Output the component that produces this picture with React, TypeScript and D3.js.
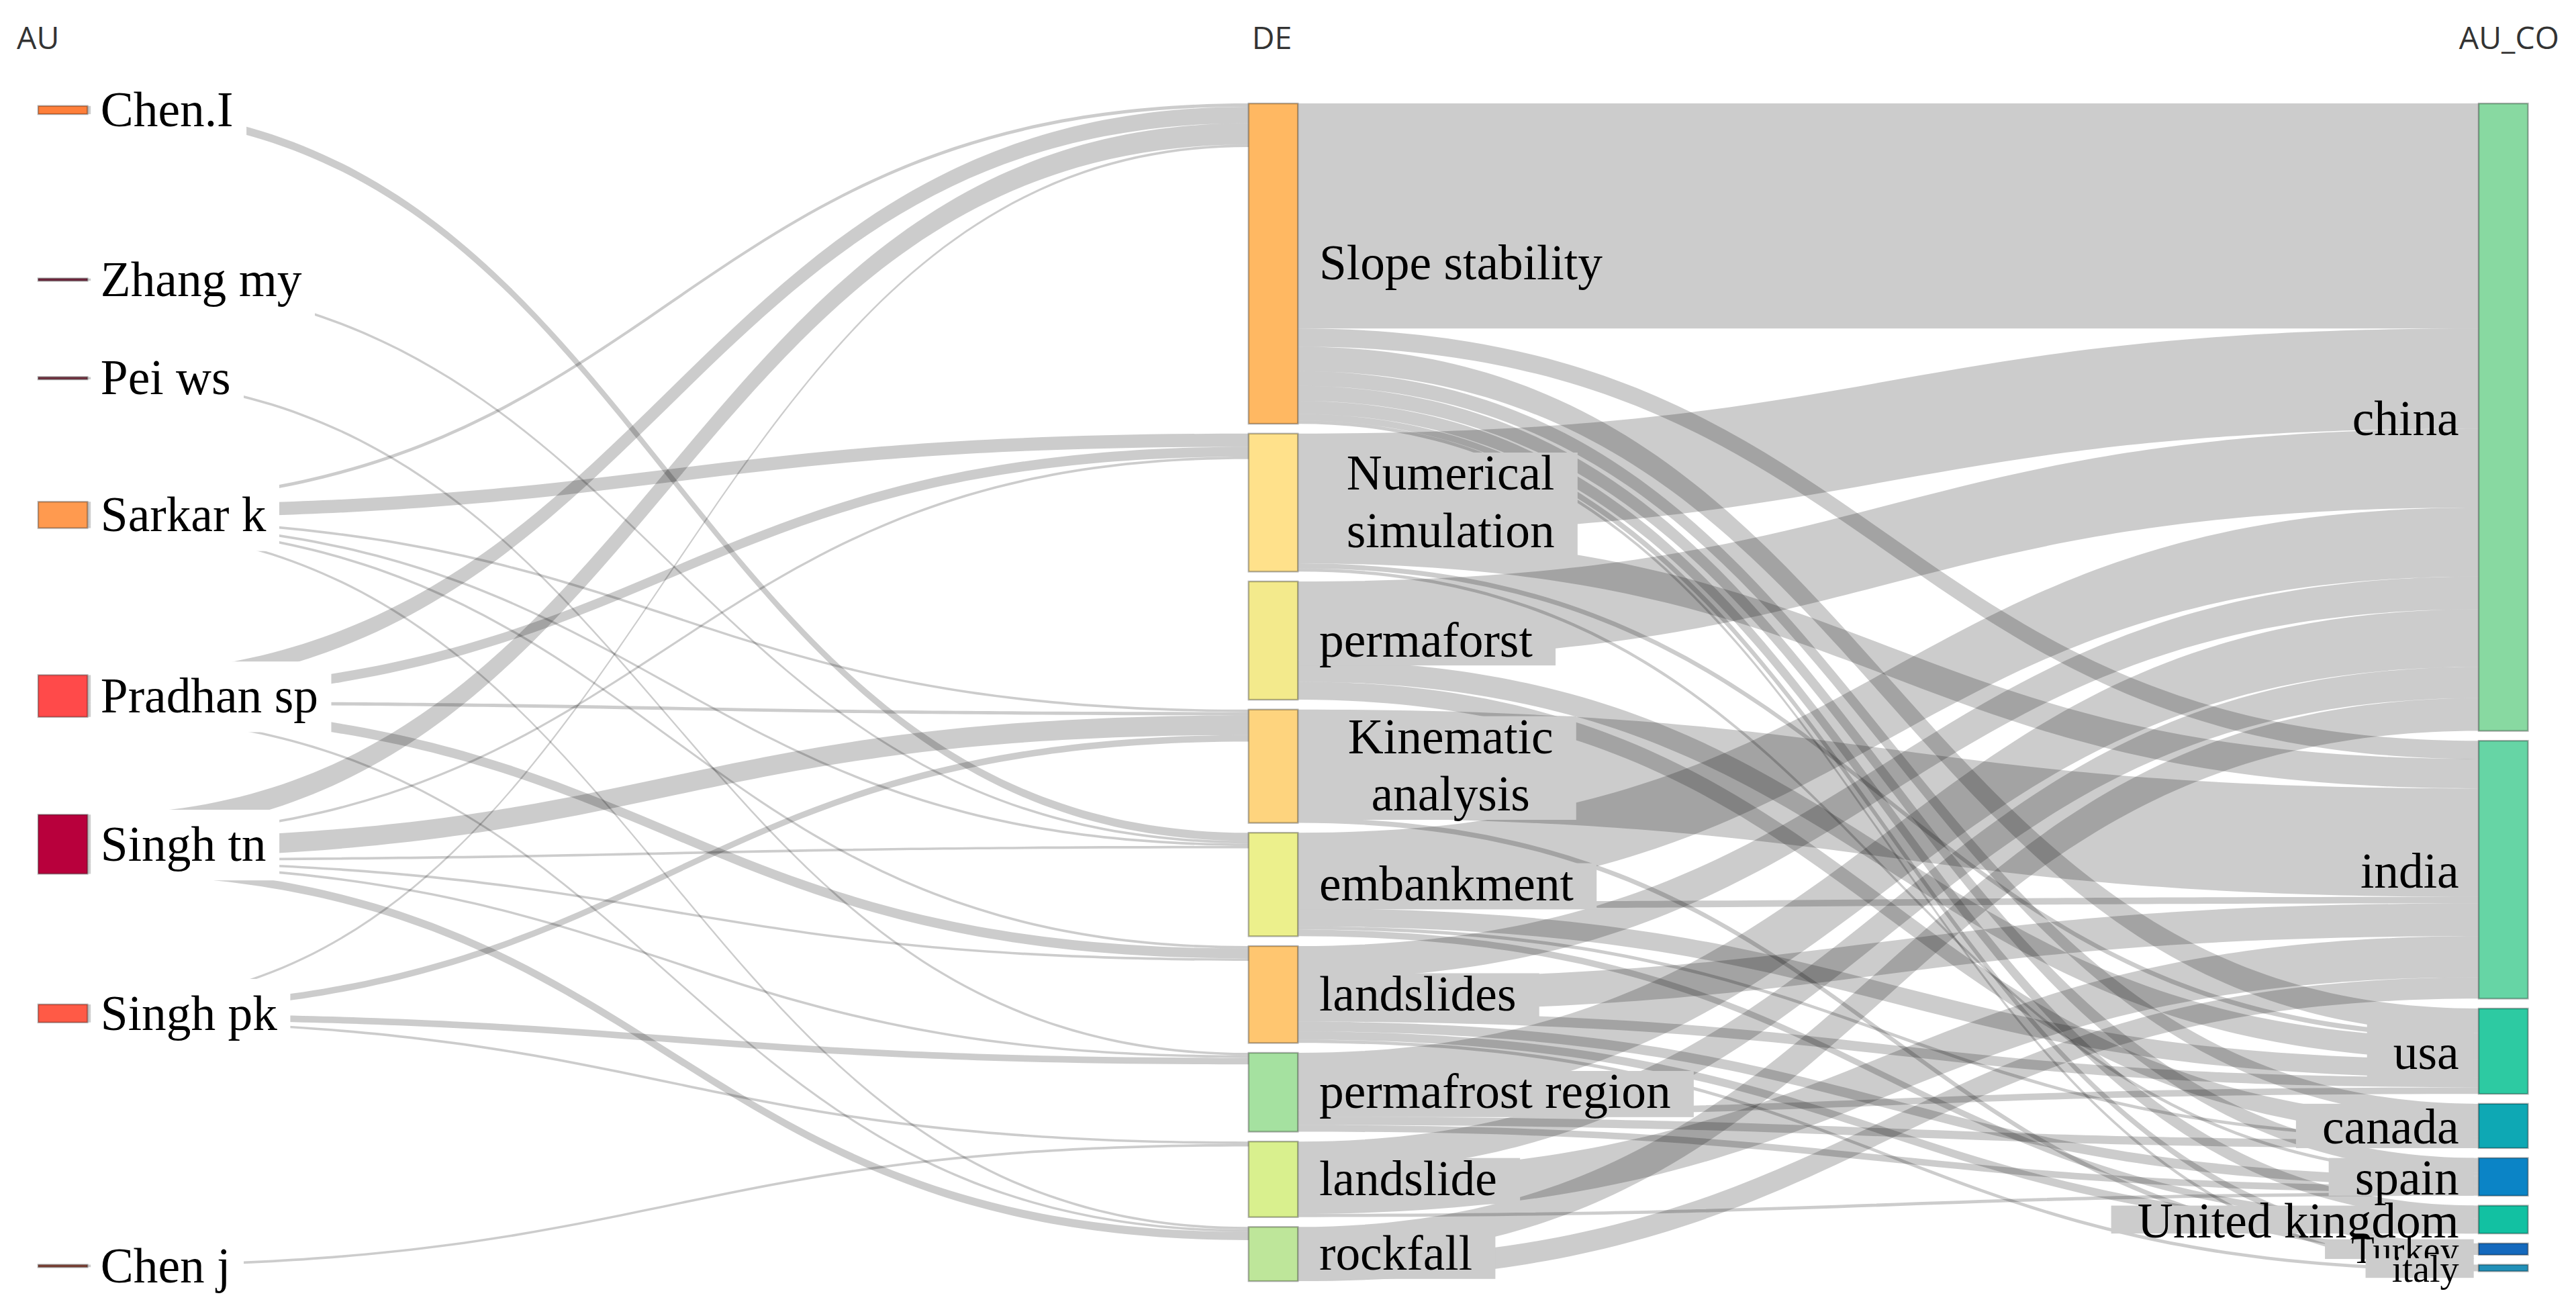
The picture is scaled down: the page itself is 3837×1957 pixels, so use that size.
import * as d3 from 'd3';
import { useEffect, useRef } from 'react';

// three-field plot: authors (AU) -> keywords (DE) -> countries (AU_CO)
const columnTitles = ['AU', 'DE', 'AU_CO'];

const authors = ['Chen.I', 'Zhang my', 'Pei ws', 'Sarkar k', 'Pradhan sp', 'Singh tn', 'Singh pk', 'Chen j'];
const keywords = [
    'Slope stability',
    'Numerical simulation',
    'permaforst',
    'Kinematic analysis',
    'embankment',
    'landslides',
    'permafrost region',
    'landslide',
    'rockfall',
];
const countries = ['china', 'india', 'usa', 'canada', 'spain', 'United kingdom', 'Turkey', 'italy'];

// author -> keyword
const authorLinks: [string, string, number][] = [
    ['Chen.I', 'embankment', 5],
    ['Zhang my', 'embankment', 1.5],
    ['Pei ws', 'permafrost region', 1.5],
    ['Sarkar k', 'Slope stability', 2],
    ['Sarkar k', 'Numerical simulation', 8],
    ['Sarkar k', 'Kinematic analysis', 1.5],
    ['Sarkar k', 'embankment', 1.5],
    ['Sarkar k', 'landslides', 1.5],
    ['Sarkar k', 'rockfall', 1.5],
    ['Pradhan sp', 'Slope stability', 10],
    ['Pradhan sp', 'Numerical simulation', 6],
    ['Pradhan sp', 'Kinematic analysis', 2],
    ['Pradhan sp', 'landslides', 6],
    ['Pradhan sp', 'rockfall', 1.5],
    ['Singh tn', 'Slope stability', 13],
    ['Singh tn', 'Numerical simulation', 1.5],
    ['Singh tn', 'Kinematic analysis', 12],
    ['Singh tn', 'embankment', 1.5],
    ['Singh tn', 'landslides', 1.5],
    ['Singh tn', 'permafrost region', 1.5],
    ['Singh tn', 'rockfall', 5],
    ['Singh pk', 'Slope stability', 1.5],
    ['Singh pk', 'Kinematic analysis', 4],
    ['Singh pk', 'permafrost region', 4],
    ['Singh pk', 'landslide', 1.5],
    ['Chen j', 'landslide', 1.5],
];

// keyword -> country
const keywordLinks: [string, string, number][] = [
    ['Slope stability', 'china', 137],
    ['Slope stability', 'india', 11],
    ['Slope stability', 'usa', 15],
    ['Slope stability', 'canada', 9],
    ['Slope stability', 'spain', 9],
    ['Slope stability', 'United kingdom', 8],
    ['Slope stability', 'Turkey', 4],
    ['Slope stability', 'italy', 2],
    ['Numerical simulation', 'china', 61],
    ['Numerical simulation', 'india', 18],
    ['Numerical simulation', 'usa', 3],
    ['Numerical simulation', 'spain', 2],
    ['permaforst', 'china', 48],
    ['permaforst', 'usa', 13],
    ['permaforst', 'canada', 11],
    ['Kinematic analysis', 'india', 66],
    ['Kinematic analysis', 'Turkey', 3],
    ['embankment', 'china', 42],
    ['embankment', 'india', 4],
    ['embankment', 'usa', 11],
    ['embankment', 'canada', 2],
    ['embankment', 'United kingdom', 4],
    ['landslides', 'china', 20],
    ['landslides', 'india', 20],
    ['landslides', 'usa', 6],
    ['landslides', 'spain', 6],
    ['landslides', 'United kingdom', 5],
    ['landslides', 'italy', 2],
    ['permafrost region', 'china', 35],
    ['permafrost region', 'usa', 4],
    ['permafrost region', 'canada', 5],
    ['permafrost region', 'spain', 4],
    ['landslide', 'china', 19],
    ['landslide', 'india', 25],
    ['landslide', 'spain', 2],
    ['rockfall', 'china', 20],
    ['rockfall', 'india', 13],
];

const authorColors = ['#ff7f3a', '#7b2b44', '#7e3a48', '#ff9a4f', '#ff4a4a', '#b8003c', '#ff5a46', '#8c4a3c'];
const keywordColors = ['#ffb862', '#ffe18b', '#f3ea8c', '#fed47e', '#ecf08c', '#ffc670', '#a5e1a0', '#d9f08e', '#bee69a'];
const countryColors = ['#88d9a1', '#66d5a5', '#2dcaa2', '#0ea8b4', '#0b84c6', '#12c1a2', '#1469bd', '#2190b8'];

// free arrangement of the author column: space left above each node
const authorGaps = [1.5, 100, 58.5, 74.5, 89.5, 59.5, 79.5, 147.5];
// keyword labels that are broken on two lines
const wrapped: Record<string, string[]> = {
    'Numerical simulation': ['Numerical', 'simulation'],
    'Kinematic analysis': ['Kinematic', 'analysis'],
};

type Node = {
    name: string;
    col: number;
    color: string;
    inSum: number;
    outSum: number;
    value: number;
    x0: number;
    x1: number;
    y0: number;
    y1: number;
};
type Link = { source: Node; target: Node; value: number; width: number; y0: number; y1: number };

const serif = "'Liberation Serif', 'Times New Roman', serif";

export default function App() {
    const chartRef = useRef<SVGSVGElement | null>(null);

    useEffect(() => {
        if (!chartRef.current) return;
        const svg = d3.select(chartRef.current);
        svg.selectAll('*').remove();

        const width = 1568;
        const height = 800;
        const top = 63;
        const bottom = 780;
        const nodeWidth = 30;
        const nodePadding = 6;
        const columnX = [23, 760, 1509];

        svg.attr('viewBox', `0 0 ${width} ${height}`);
        svg.append('rect').attr('width', width).attr('height', height).attr('fill', '#fff');

        const cols = [authors, keywords, countries];
        const palette = [authorColors, keywordColors, countryColors];
        const nodes: Node[] = [];
        const byName = new Map<string, Node>();
        cols.forEach((names, c) =>
            names.forEach((name, i) => {
                const n: Node = { name, col: c, color: palette[c][i], inSum: 0, outSum: 0, value: 0, x0: 0, x1: 0, y0: 0, y1: 0 };
                nodes.push(n);
                byName.set(name, n);
            })
        );

        const links: Link[] = [...authorLinks, ...keywordLinks].map(([s, t, v]) => ({
            source: byName.get(s)!,
            target: byName.get(t)!,
            value: v,
            width: 0,
            y0: 0,
            y1: 0,
        }));
        links.forEach((l) => {
            l.source.outSum += l.value;
            l.target.inSum += l.value;
        });
        nodes.forEach((n) => (n.value = Math.max(n.inSum, n.outSum)));

        const ky = d3.min(cols, (names, c) => {
            const cn = nodes.filter((n) => n.col === c);
            return (bottom - top - (names.length - 1) * nodePadding) / d3.sum(cn, (n) => n.value);
        })!;
        const thickness = d3.scaleLinear().domain([0, 1]).range([0, ky]);

        cols.forEach((names, c) => {
            let y = top;
            names.forEach((name, i) => {
                const n = byName.get(name)!;
                if (c === 0) y += authorGaps[i];
                else if (i > 0) y += nodePadding;
                n.y0 = y;
                n.y1 = y + thickness(n.value);
                y = n.y1;
                n.x0 = columnX[c];
                n.x1 = n.x0 + nodeWidth;
            });
        });

        nodes.forEach((n) => {
            let off = n.y0;
            links
                .filter((l) => l.source === n)
                .sort((a, b) => a.target.y0 - b.target.y0)
                .forEach((l) => {
                    l.width = thickness(l.value);
                    l.y0 = off;
                    off += l.width;
                });
            off = n.y0;
            links
                .filter((l) => l.target === n)
                .sort((a, b) => a.source.y0 - b.source.y0)
                .forEach((l) => {
                    l.y1 = off;
                    off += thickness(l.value);
                });
        });

        const band = (l: Link) => {
            const x0 = l.source.x1;
            const x1 = l.target.x0;
            const xm = d3.interpolateNumber(x0, x1)(0.5);
            const p = d3.path();
            p.moveTo(x0, l.y0);
            p.bezierCurveTo(xm, l.y0, xm, l.y1, x1, l.y1);
            p.lineTo(x1, l.y1 + l.width);
            p.bezierCurveTo(xm, l.y1 + l.width, xm, l.y0 + l.width, x0, l.y0 + l.width);
            p.closePath();
            return p.toString();
        };

        svg.append('g')
            .selectAll('path')
            .data(links)
            .join('path')
            .attr('d', band)
            .attr('fill', 'rgba(0,0,0,0.2)');

        svg.append('g')
            .selectAll('rect')
            .data(nodes)
            .join('rect')
            .attr('x', (d) => d.x0)
            .attr('y', (d) => d.y0)
            .attr('width', nodeWidth)
            .attr('height', (d) => Math.max(d.y1 - d.y0, 1))
            .attr('fill', (d) => d.color)
            .attr('stroke', 'rgba(0,0,0,0.3)')
            .attr('stroke-width', 1);

        // column titles
        const titleX = [columnX[0] - 13, columnX[1] + 2, columnX[2] + nodeWidth + 19];
        svg.append('g')
            .selectAll('text')
            .data(columnTitles)
            .join('text')
            .attr('x', (_, i) => titleX[i])
            .attr('y', 30)
            .attr('text-anchor', (_, i) => (i === 2 ? 'end' : 'start'))
            .style('font-family', "'Open Sans', 'DejaVu Sans', sans-serif")
            .style('font-size', '19px')
            .attr('fill', '#333')
            .text((d) => d);

        const labels = svg.append('g').style('font-family', serif).attr('fill', '#000');
        const mid = (n: Node) => (n.y0 + n.y1) / 2;

        // author labels on white boxes
        nodes
            .filter((n) => n.col === 0)
            .forEach((n) => {
                const g = labels.append('g');
                const box = g.append('rect').attr('fill', '#fff');
                const t = g
                    .append('text')
                    .attr('x', n.x1 + 8)
                    .attr('y', mid(n))
                    .attr('dy', '0.33em')
                    .style('font-size', '30px')
                    .text(n.name);
                const len = (t.node() as SVGTextElement).getComputedTextLength();
                box.attr('x', n.x1 + 2)
                    .attr('y', mid(n) - 21)
                    .attr('width', len + 14)
                    .attr('height', 43);
            });

        // keyword labels on grey boxes
        nodes
            .filter((n) => n.col === 1)
            .forEach((n) => {
                const g = labels.append('g');
                const box = g.append('rect').attr('fill', '#cccccc');
                const lines = wrapped[n.name] ?? [n.name];
                const lh = 35;
                const t = g
                    .append('text')
                    .attr('text-anchor', lines.length > 1 ? 'middle' : 'start')
                    .style('font-size', '30px');
                lines.forEach((line, i) =>
                    t
                        .append('tspan')
                        .attr('x', lines.length > 1 ? n.x1 + 93 : n.x1 + 13)
                        .attr('y', mid(n) - ((lines.length - 1) * lh) / 2 + i * lh)
                        .attr('dy', '0.32em')
                        .text(line)
                );
                const bb = (t.node() as SVGTextElement).getBBox();
                box.attr('x', n.x1 + 1)
                    .attr('y', bb.y + 4)
                    .attr('width', bb.x + bb.width + 14 - n.x1 - 1)
                    .attr('height', bb.height - 5);
            });

        // country labels
        nodes
            .filter((n) => n.col === 2)
            .forEach((n) => {
                const h = n.y1 - n.y0;
                const g = labels.append('g');
                const box = g.append('rect').attr('fill', '#cccccc');
                const t = g
                    .append('text')
                    .attr('x', n.x0 - 12)
                    .attr('y', mid(n))
                    .attr('dy', '0.36em')
                    .attr('text-anchor', 'end')
                    .style('font-size', h < 10 ? '23px' : '30px')
                    .text(n.name);
                if (h < 60) {
                    const bb = (t.node() as SVGTextElement).getBBox();
                    const bh = Math.min(Math.max(h, 12), 34);
                    box.attr('x', bb.x - 16)
                        .attr('y', mid(n) - bh / 2)
                        .attr('width', n.x0 - 3 - (bb.x - 16))
                        .attr('height', bh);
                }
            });
    }, []);

    return (
        <svg
            ref={chartRef}
            width={3837}
            height={1957}
            style={{ position: 'absolute', left: 0, top: 0, display: 'block' }}
        />
    );
}
